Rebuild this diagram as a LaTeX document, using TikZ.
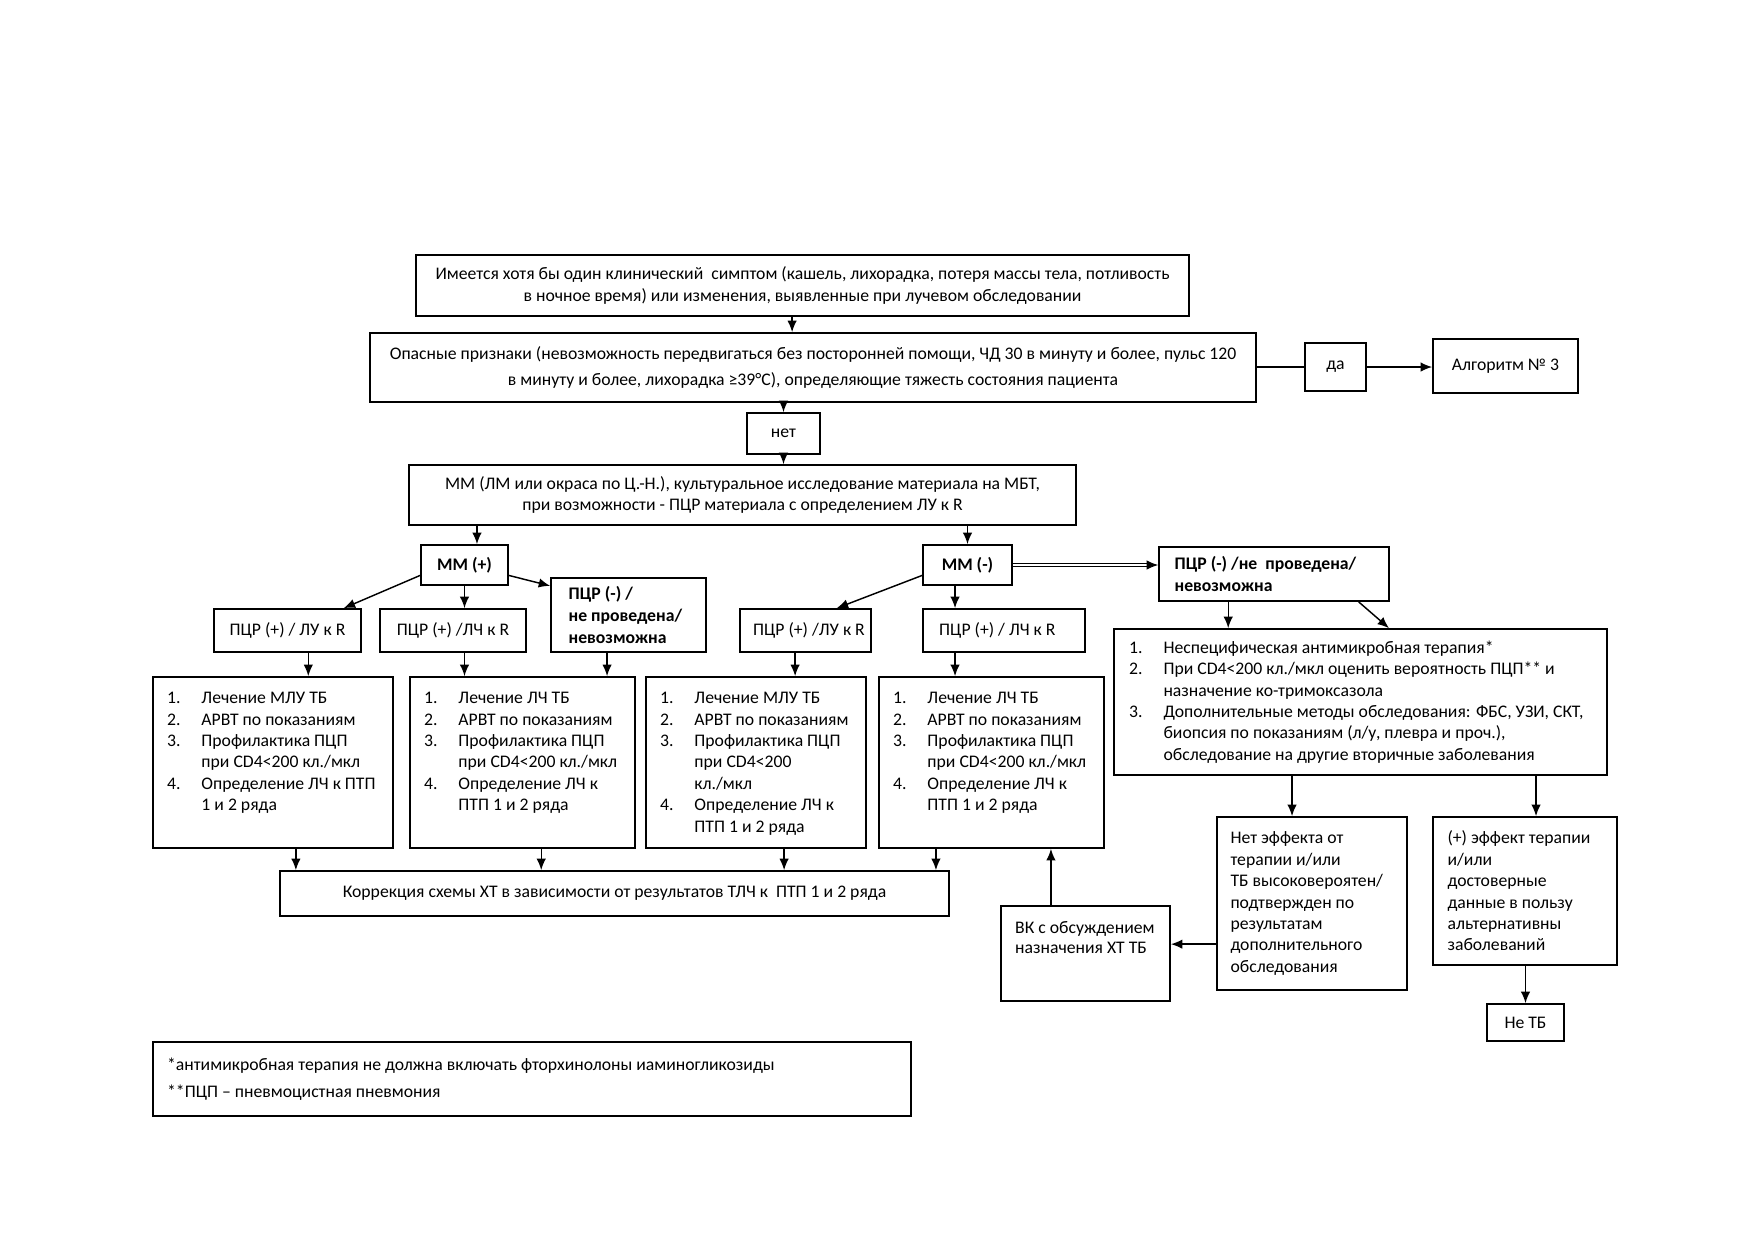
\documentclass[tikz,border=0pt]{standalone}
\usepackage{fontspec}
\setmainfont{Carlito}
\usetikzlibrary{arrows.meta,positioning}
\newcommand{\nr}[1]{\makebox[16.5pt][l]{#1.}}
\newcommand{\ind}{\hspace*{16.5pt}}
\begin{document}
\begin{tikzpicture}[x=0.4806pt,y=-0.4806pt,
  font=\fontsize{8.5}{10.3}\selectfont,
  box/.style={draw,line width=0.8pt,inner sep=0pt},
  sz/.style 2 args={minimum width=#1*0.4806pt,minimum height=#2*0.4806pt},
  bold/.style={font=\fontsize{8.5}{10.6}\selectfont\bfseries},
  txt/.style={inner sep=0pt,align=flush left},
  arr/.style={line width=0.7pt,-{Latex[length=5.5pt,width=4.5pt]}}]
 \useasboundingbox[fill=white] (0,0) rectangle (1752,1239);
 \node[box,sz={773}{61},align=center,font=\fontsize{8.5}{10.7}\selectfont] (sympt) at (802.5,285.5) {Имеется хотя бы один клинический\ \ симптом (кашель, лихорадка, потеря массы тела, потливость\\в ночное время) или изменения, выявленные при лучевом обследовании};
 \node[box,sz={886}{69},align=center,font=\fontsize{8.5}{12.3}\selectfont] (danger) at (813,367.5) {Опасные признаки (невозможность передвигаться без посторонней помощи, ЧД 30 в минуту и более, пульс 120\\в минуту и более, лихорадка ≥39°C), определяющие тяжесть состояния пациента};
 \node[box,sz={61}{48}] (yes) at (1335.5,367) {да};
 \node[box,sz={145}{54}] (alg) at (1505.5,366) {Алгоритм № 3};
 \node[box,sz={73}{41}] (no) at (783.5,433.5) {нет};
 \node[box,sz={667}{60},align=center,font=\fontsize{8.5}{10.2}\selectfont] (mm) at (742.5,495) {ММ (ЛМ или окраса по Ц.-Н.), культуральное исследование материала на МБТ,\\при возможности - ПЦР материала с определением ЛУ к R};
 \node[box,sz={87}{40},bold] (mmp) at (464.5,565) {ММ (+)};
 \node[box,sz={155}{74}] (pcrnl) at (628.5,615) {};
 \node[txt,bold,right=8.7pt of pcrnl.west] (pcrnl-t) {ПЦР (-) /\\не проведена/\\невозможна};
 \node[box,sz={147}{43}] (pcr1) at (287.5,630.5) {ПЦР (+) / ЛУ к R};
 \node[box,sz={146}{43}] (pcr2) at (453,630.5) {ПЦР (+) /ЛЧ к R};
 \node[box,sz={89}{40},bold] (mmn) at (967.5,565) {ММ (-)};
 \node[box,sz={230}{54}] (pcrnr) at (1274,574) {};
 \node[txt,bold,right=7.7pt of pcrnr.west] (pcrnr-t) {ПЦР (-) /не\ \ проведена/\\невозможна};
 \node[box,sz={131}{43}] (pcr3) at (805.5,630.5) {};
 \node[txt,right=6.5pt of pcr3.west] (pcr3-t) {ПЦР (+) /ЛУ к R};
 \node[box,sz={162}{43}] (pcr4) at (1004,630.5) {};
 \node[txt,right=8pt of pcr4.west] (pcr4-t) {ПЦР (+) / ЛЧ к R};
 \node[box,sz={240}{171}] (la) at (273,762.5) {};
 \node[box,sz={225}{171}] (lb) at (522.5,762.5) {};
 \node[box,sz={220}{171}] (lc) at (756,762.5) {};
 \node[box,sz={225}{171}] (ld) at (991.5,762.5) {};
 \node[txt,below right=7.5pt and 7pt of la.north west] (la-t) {\nr{1}Лечение МЛУ ТБ\\\nr{2}АРВТ по показаниям\\\nr{3}Профилактика ПЦП\\\ind при CD4<200 кл./мкл\\\nr{4}Определение ЛЧ к ПТП\\\ind 1 и 2 ряда};
 \node[txt,below right=7.5pt and 7pt of lb.north west] (lb-t) {\nr{1}Лечение ЛЧ ТБ\\\nr{2}АРВТ по показаниям\\\nr{3}Профилактика ПЦП\\\ind при CD4<200 кл./мкл\\\nr{4}Определение ЛЧ к\\\ind ПТП 1 и 2 ряда};
 \node[txt,below right=7.5pt and 7pt of lc.north west] (lc-t) {\nr{1}Лечение МЛУ ТБ\\\nr{2}АРВТ по показаниям\\\nr{3}Профилактика ПЦП\\\ind при CD4<200\\\ind кл./мкл\\\nr{4}Определение ЛЧ к\\\ind ПТП 1 и 2 ряда};
 \node[txt,below right=7.5pt and 7pt of ld.north west] (ld-t) {\nr{1}Лечение ЛЧ ТБ\\\nr{2}АРВТ по показаниям\\\nr{3}Профилактика ПЦП\\\ind при CD4<200 кл./мкл\\\nr{4}Определение ЛЧ к\\\ind ПТП 1 и 2 ряда};
 \node[box,sz={493}{146}] (le) at (1360.5,702) {};
 \node[txt,right=7.5pt of le.west] (le-t) {\nr{1}Неспецифическая антимикробная терапия*\\\nr{2}При CD4<200 кл./мкл оценить вероятность ПЦП** и\\\ind назначение ко-тримоксазола\\\nr{3}Дополнительные методы обследования: ФБС, УЗИ, СКТ,\\\ind биопсия по показаниям (л/у, плевра и проч.),\\\ind обследование на другие вторичные заболевания};
 \node[box,sz={669}{45}] (corr) at (614.5,893.5) {Коррекция схемы ХТ в зависимости от результатов ТЛЧ к\ \ ПТП 1 и 2 ряда};
 \node[box,sz={169}{95}] (vk) at (1085.5,953.5) {};
 \node[txt,below right=7.5pt and 7pt of vk.north west,font=\fontsize{8.5}{9.7}\selectfont] (vk-t) {ВК с обсуждением\\назначения ХТ ТБ};
 \node[box,sz={190}{173}] (noeff) at (1312,903.5) {};
 \node[txt,right=6.7pt of noeff.west] (noeff-t) {Нет эффекта от\\терапии и/или\\ТБ высоковероятен/\\подтвержден по\\результатам\\дополнительного\\обследования};
 \node[box,sz={184}{148}] (poseff) at (1525,891) {};
 \node[txt,right=7.2pt of poseff.west] (poseff-t) {(+) эффект терапии\\и/или\\достоверные\\данные в пользу\\альтернативны\\заболеваний};
 \node[box,sz={77}{37}] (notb) at (1525.5,1022.5) {Не ТБ};
 \node[box,sz={758}{74}] (foot) at (532,1079) {};
 \node[txt,right=7pt of foot.west,font=\fontsize{8.5}{12.9}\selectfont] (foot-t) {*антимикробная терапия не должна включать фторхинолоны иаминогликозиды\\{}**ПЦП – пневмоцистная пневмония};
 \draw[arr] ([xshift=-5pt]sympt.south) -- ([xshift=-5pt]sympt.south |- danger.north);
 \draw[arr] (no.north |- danger.south) -- (no.north);
 \draw[arr] (no.south) -- (no.south |- mm.north);
 \draw[line width=0.7pt] (danger.east |- yes.west) -- (yes.west);
 \draw[arr] (yes.east) -- (yes.east -| alg.west);
 \draw[arr] ([xshift=6pt]mmp.north |- mm.south) -- ([xshift=6pt]mmp.north);
 \draw[arr] (mmn.north |- mm.south) -- (mmn.north);
 \draw[arr] ([yshift=-5pt]mmp.west) -- ([xshift=27pt]pcr1.north);
 \draw[arr] (mmp.south) -- (mmp.south |- pcr2.north);
 \draw[arr] ([yshift=-5pt]mmp.east) -- ([yshift=14pt]pcrnl.west);
 \draw[arr] ([yshift=-5pt]mmn.west) -- ([xshift=15pt]pcr3.north);
 \draw[arr] ([xshift=-6pt]mmn.south) -- ([xshift=-6pt]mmn.south |- pcr4.north);
 \draw[arr,line width=0.5pt,double,double distance=1.2pt] (mmn.east) -- (mmn.east -| pcrnr.west);
 \draw[arr] ([xshift=-22pt]pcrnr.south) -- ([xshift=-22pt]pcrnr.south |- le.north);
 \draw[arr] ([xshift=-15pt]pcrnr.south east) -- ([xshift=13.7pt]le.north);
 \draw[arr] ([xshift=10pt]pcr1.south) -- ([xshift=10pt]pcr1.south |- la.north);
 \draw[arr] (mmp.south |- pcr2.south) -- (mmp.south |- lb.north);
 \draw[arr] ([xshift=-10.3pt]pcrnl.south) -- ([xshift=-10.3pt]pcrnl.south |- lb.north);
 \draw[arr] ([xshift=-5pt]pcr3.south) -- ([xshift=-5pt]pcr3.south |- lc.north);
 \draw[arr] ([xshift=-6pt]mmn.south |- pcr4.south) -- ([xshift=-6pt]mmn.south |- ld.north);
 \draw[arr] ([xshift=11pt]la.south) -- ([xshift=11pt]la.south |- corr.north);
 \draw[arr] ([xshift=9pt]lb.south) -- ([xshift=9pt]lb.south |- corr.north);
 \draw[arr] ([xshift=13.5pt]lc.south) -- ([xshift=13.5pt]lc.south |- corr.north);
 \draw[arr] ([xshift=-26.7pt]ld.south) -- ([xshift=-26.7pt]ld.south |- corr.north);
 \draw[arr] ([xshift=-16.6pt]vk.north) -- ([xshift=-16.6pt]vk.north |- ld.south);
 \draw[arr] ([xshift=-9.6pt]noeff.north |- le.south) -- ([xshift=-9.6pt]noeff.north);
 \draw[arr] ([xshift=5.3pt]poseff.north |- le.south) -- ([xshift=5.3pt]poseff.north);
 \draw[arr] (notb.north |- poseff.south) -- (notb.north);
 \draw[arr] ([yshift=4.5pt]vk.east -| noeff.west) -- ([yshift=4.5pt]vk.east);
\end{tikzpicture}
\end{document}
